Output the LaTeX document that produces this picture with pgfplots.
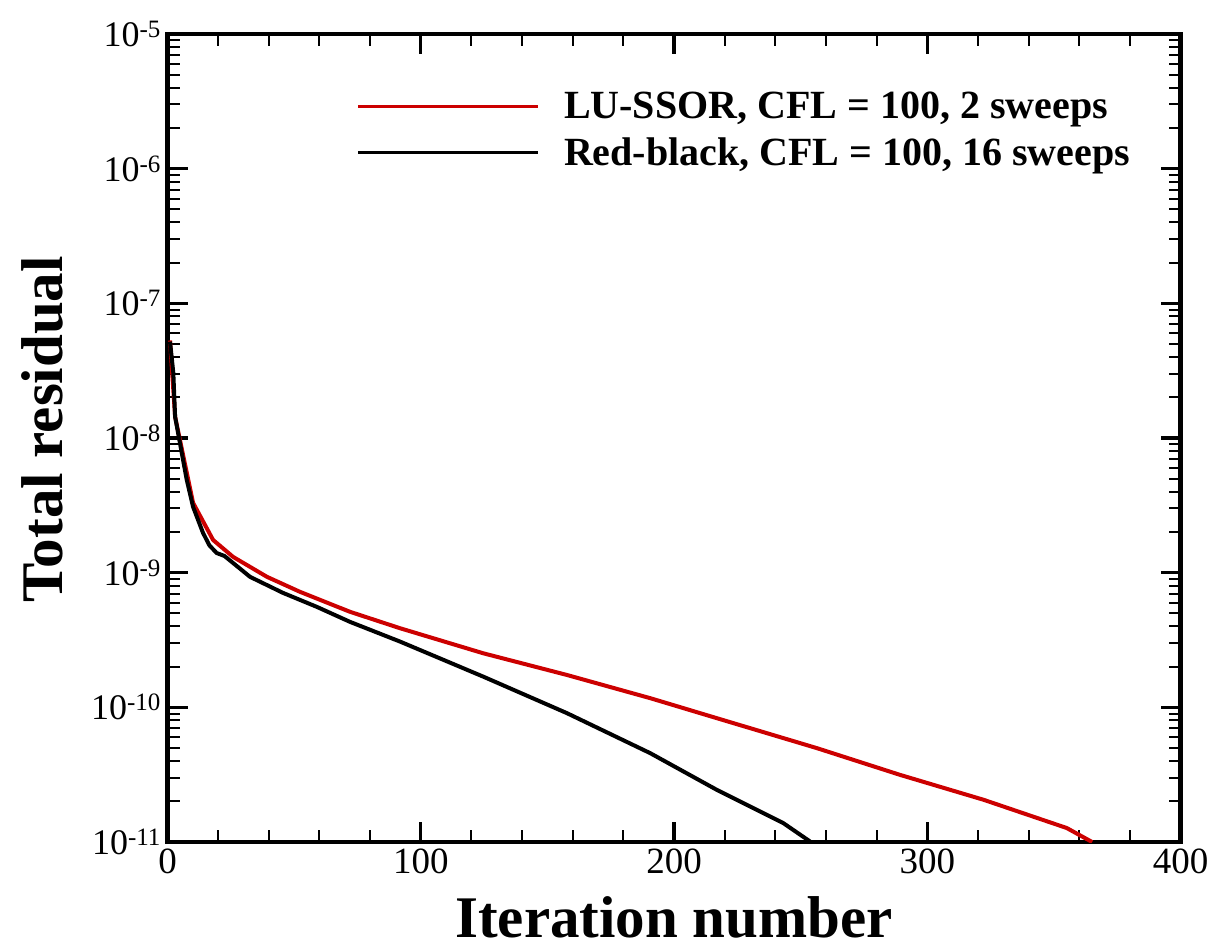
\documentclass[border=0pt]{standalone}
\usepackage{fontspec}
\setmainfont{Liberation Serif}
\usepackage{pgfplots}
\pgfplotsset{compat=1.18}
\definecolor{cred}{RGB}{204,0,0}
\begin{document}
\begin{tikzpicture}
\begin{axis}[
  scale only axis,
  width=506.5pt, height=404pt,
  xmin=0, xmax=400, ymin=1e-11, ymax=1e-5,
  ymode=log, log basis y=10,
  xtick={0,100,200,300,400},
  minor x tick num=4,
  ytick={1e-11,1e-10,1e-9,1e-8,1e-7,1e-6,1e-5},
  minor ytick={2e-11,3e-11,4e-11,5e-11,6e-11,7e-11,8e-11,9e-11,
               2e-10,3e-10,4e-10,5e-10,6e-10,7e-10,8e-10,9e-10,
               2e-9,3e-9,4e-9,5e-9,6e-9,7e-9,8e-9,9e-9,
               2e-8,3e-8,4e-8,5e-8,6e-8,7e-8,8e-8,9e-8,
               2e-7,3e-7,4e-7,5e-7,6e-7,7e-7,8e-7,9e-7,
               2e-6,3e-6,4e-6,5e-6,6e-6,7e-6,8e-6,9e-6},
  yticklabel={10\raisebox{4.5pt}{\fontsize{12.5}{13}\selectfont\pgfmathparse{int(round(\tick))}\pgfmathresult}},
  xticklabel style={/pgf/number format/assume math mode=true, font=\fontsize{18.5}{20}\selectfont},
  yticklabel style={font=\fontsize{18}{20}\selectfont},
  tick align=inside,
  major tick length=10pt, minor tick length=6pt,
  every major tick/.append style={line width=1.6pt, black},
  every minor tick/.append style={line width=1pt, black},
  axis line style={line width=2.2pt},
  xlabel={Iteration number},
  ylabel={Total residual},
  every axis x label/.style={at={(axis description cs:0.5,-0.1185)}, anchor=base, inner sep=0pt, font=\fontsize{29.5}{33}\selectfont\bfseries},
  every axis y label/.style={at={(axis description cs:-0.1032,0.511)}, anchor=base, rotate=90, inner sep=0pt, font=\fontsize{29.5}{33}\selectfont\bfseries},
  legend style={draw=none, fill=none, at={(axis description cs:0.186,0.934)}, anchor=north west,
    font=\fontsize{20}{24}\selectfont\bfseries, row sep=4pt, inner sep=0pt},
  legend cell align=left,
  legend image code/.code={\draw[#1, line width=1.7pt] (0pt,0pt) -- (90pt,0pt); \path[draw=none] (90pt,0pt) -- (101pt,0pt);},
]
\addplot[cred, line width=2pt] coordinates {
(1.0,5.3e-8) (3.0,1.44e-8) (4.9,9.7e-9) (10.1,3.30e-9) (18.0,1.75e-9)
(25.9,1.31e-9) (39.3,9.31e-10) (52.3,7.21e-10) (72.1,5.12e-10) (91.8,3.87e-10)
(124.7,2.52e-10) (157.7,1.74e-10) (190.6,1.17e-10) (223.5,7.63e-11) (256.4,4.98e-11)
(289.3,3.15e-11) (322.2,2.06e-11) (355.1,1.27e-11) (365.1,1.0e-11)
};
\addlegendentry{LU-SSOR, CFL = 100, 2 sweeps}
\addplot[black, line width=2pt] coordinates {
(1.0,5.2e-8) (2.3,3.04e-8) (3.0,1.44e-8) (4.9,9.2e-9) (7.6,4.89e-9)
(10.1,3.08e-9) (14.0,1.98e-9) (16.5,1.6e-9) (19.4,1.40e-9) (22.5,1.33e-9) (25.9,1.18e-9)
(32.6,9.31e-10) (45.6,7.08e-10) (59.0,5.57e-10) (72.1,4.31e-10) (91.8,3.08e-10)
(124.7,1.69e-10) (157.7,9.06e-11) (190.6,4.57e-11) (216.9,2.44e-11) (243.2,1.38e-11)
(253.7,1.01e-11)
};
\addlegendentry{Red-black, CFL = 100, 16 sweeps}
\end{axis}
\path (current axis.south west) ++(-83.75pt,-53.5pt) rectangle ([xshift=17.75pt,yshift=17pt]current axis.north east);
\end{tikzpicture}
\end{document}
